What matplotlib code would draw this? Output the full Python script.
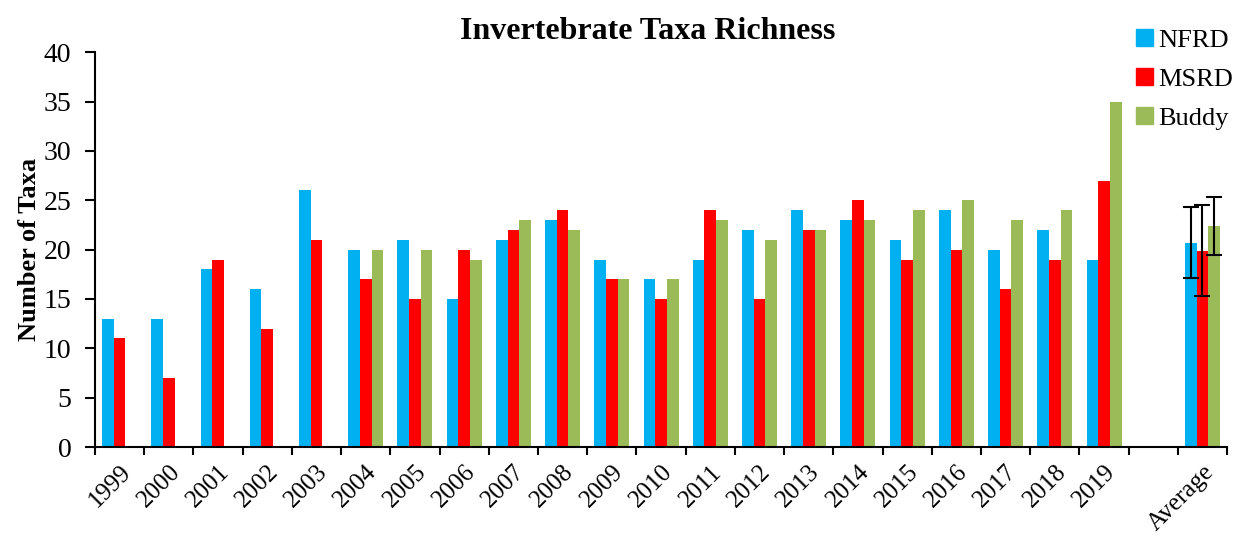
import numpy as np
import matplotlib
matplotlib.use("Agg")
import matplotlib.pyplot as plt
from matplotlib.patches import Patch

plt.rcParams['font.family'] = ['Liberation Serif', 'DejaVu Serif']

categories = ['1999', '2000', '2001', '2002', '2003', '2004', '2005', '2006',
              '2007', '2008', '2009', '2010', '2011', '2012', '2013', '2014',
              '2015', '2016', '2017', '2018', '2019', '', 'Average']

nan = np.nan
nfrd = [13, 13, 18, 16, 26, 20, 21, 15, 21, 23, 19, 17, 19, 22, 24, 23,
        21, 24, 20, 22, 19, nan, 20.7]
msrd = [11, 7, 19, 12, 21, 17, 15, 20, 22, 24, 17, 15, 24, 15, 22, 25,
        19, 20, 16, 19, 27, nan, 19.9]
buddy = [nan, nan, nan, nan, nan, 20, 20, 19, 23, 22, 17, 17, 23, 21, 22, 23,
         24, 25, 23, 24, 35, nan, 22.4]

# error bars only on the Average group
err_nfrd = 3.6
err_msrd = 4.6
err_buddy = 2.9

series = [('NFRD', nfrd, '#00B0F0', err_nfrd),
          ('MSRD', msrd, '#FF0000', err_msrd),
          ('Buddy', buddy, '#9BBB59', err_buddy)]

fig = plt.figure(figsize=(12.38, 5.38), dpi=100)
ax = fig.add_axes([0.0767, 0.169, 0.9145, 0.734])

x = np.arange(len(categories))
w = 0.237
for i, (name, vals, col, err) in enumerate(series):
    pos = x + (i - 1) * w
    ax.bar(pos, vals, width=w, color=col, edgecolor='none', label=name)
    ax.errorbar(pos[-1], vals[-1], yerr=err, fmt='none', ecolor='black',
                elinewidth=1.5, capsize=6, capthick=1.5)

ax.set_xlim(-0.5, len(categories) - 0.5)
ax.set_ylim(0, 40)
ax.set_yticks(range(0, 41, 5))
ax.set_xticks(np.arange(len(categories) + 1) - 0.5)
ax.set_xticklabels([])
ax.set_xticks(x, minor=True)
ax.set_xticklabels(categories, minor=True, rotation=45, ha='right',
                   rotation_mode='anchor', fontsize=18)
ax.tick_params(axis='x', which='minor', length=0, pad=10)
ax.tick_params(axis='x', which='major', length=6, width=1.5, direction='out')
ax.tick_params(axis='y', length=7, width=1.5, labelsize=20, direction='out',
               pad=10)

for s in ['top', 'right']:
    ax.spines[s].set_visible(False)
for s in ['left', 'bottom']:
    ax.spines[s].set_linewidth(1.5)

ax.set_ylabel('Number of Taxa', fontsize=19, fontweight='bold', labelpad=2)
fig.text(0.523, 0.942, 'Invertebrate Taxa Richness', ha='center', va='center',
         fontsize=23, fontweight='bold')

handles = [Patch(color=c, label=n) for n, _, c, _ in series]
fig.legend(handles=handles, loc='upper left', bbox_to_anchor=(0.909, 0.965),
           frameon=False, fontsize=19, handlelength=0.65, handleheight=0.6,
           handletextpad=0.2, labelspacing=0.62, borderaxespad=0)

fig.savefig('out.png', dpi=100)
